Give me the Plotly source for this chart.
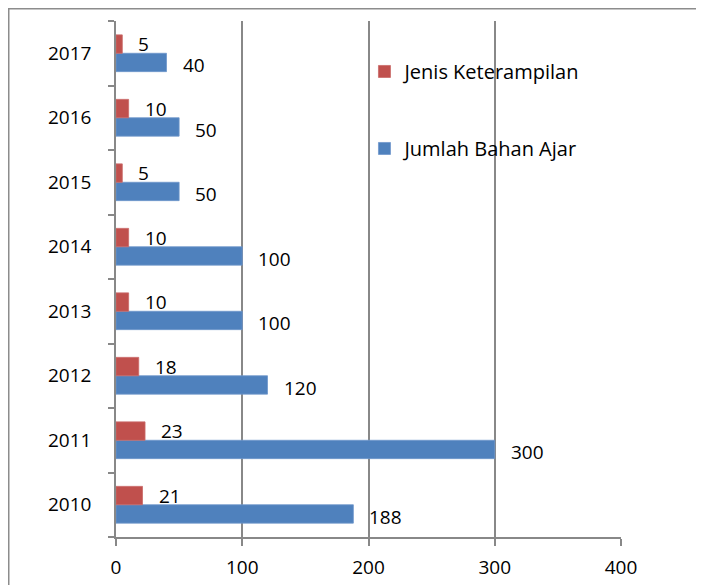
import plotly.graph_objects as go

years = ["2010", "2011", "2012", "2013", "2014", "2015", "2016", "2017"]
jenis_keterampilan = [21, 23, 18, 10, 10, 5, 10, 5]
jumlah_bahan_ajar = [188, 300, 120, 100, 100, 50, 50, 40]
x_ticks = [0, 100, 200, 300, 400]

RED = "#C0504D"
BLUE = "#4F81BD"
FONT = "Open Sans"
GRID = "#888888"

fig = go.Figure()
fig.add_trace(go.Bar(
    y=years, x=jumlah_bahan_ajar, orientation="h", name="Jumlah Bahan Ajar",
    marker=dict(color=BLUE, line=dict(color="#6F97CB", width=0.8)),
    legendgroup="b", legendrank=2,
))
fig.add_trace(go.Bar(
    y=years, x=jenis_keterampilan, orientation="h", name="Jenis Keterampilan",
    marker=dict(color=RED, line=dict(color="#C96A68", width=0.8)),
    legendgroup="r", legendrank=1,
))

annotations = []
for i, v in enumerate(jenis_keterampilan):
    annotations.append(dict(x=v, y=i, xref="x", yref="y", text=str(v),
                            showarrow=False, xanchor="left", xshift=14, yshift=9,
                            font=dict(family=FONT, size=19, color="black")))
for i, v in enumerate(jumlah_bahan_ajar):
    annotations.append(dict(x=v, y=i, xref="x", yref="y", text=str(v),
                            showarrow=False, xanchor="left", xshift=14, yshift=-12,
                            font=dict(family=FONT, size=19, color="black")))

# page body has an 8px default margin
W, H = 696, 577
L, T = 108, 13
R = W - 613
B = H - 529
pw, ph = W - L - R, H - T - B

fig.update_layout(
    width=W, height=H,
    margin=dict(l=L, r=R, t=T, b=B, pad=0),
    paper_bgcolor="white", plot_bgcolor="white",
    barmode="group", bargap=0.43, bargroupgap=0,
    font=dict(family=FONT, size=19, color="black"),
    showlegend=True,
    legend=dict(
        x=0.492, y=0.940, xanchor="left", yanchor="top",
        traceorder="grouped", tracegroupgap=48,
        bgcolor="rgba(0,0,0,0)", font=dict(family=FONT, size=20, color="black"),
        itemwidth=30,
    ),
    annotations=annotations,
    shapes=[dict(type="rect", xref="paper", yref="paper",
                 x0=(0.75 - L) / pw, x1=1.5, y0=-0.5, y1=1 + (T - 0.75) / ph,
                 line=dict(color="#8c8c8c", width=1.5), fillcolor="rgba(0,0,0,0)",
                 layer="below")],
)
fig.update_xaxes(
    range=[0, 400], tickvals=x_ticks, ticktext=[str(t) for t in x_ticks],
    showgrid=True, gridcolor=GRID, gridwidth=1.5,
    showline=True, linecolor=GRID, linewidth=1.5,
    ticks="outside", ticklen=7, tickcolor=GRID, tickwidth=1.5,
    zeroline=False, ticklabelstandoff=5, automargin=False,
    tickfont=dict(family=FONT, size=19, color="black"),
)
fig.update_yaxes(
    type="category", categoryorder="array", categoryarray=years,
    range=[-0.5, len(years) - 0.5], autorange=False,
    showgrid=False, showline=True, linecolor=GRID, linewidth=1.5,
    ticks="outside", ticklen=6, tickcolor=GRID, tickwidth=1.5,
    tickson="boundaries", ticklabelstandoff=19, automargin=False,
    tickfont=dict(family=FONT, size=19, color="black"),
)

fig.write_html("out.html")
